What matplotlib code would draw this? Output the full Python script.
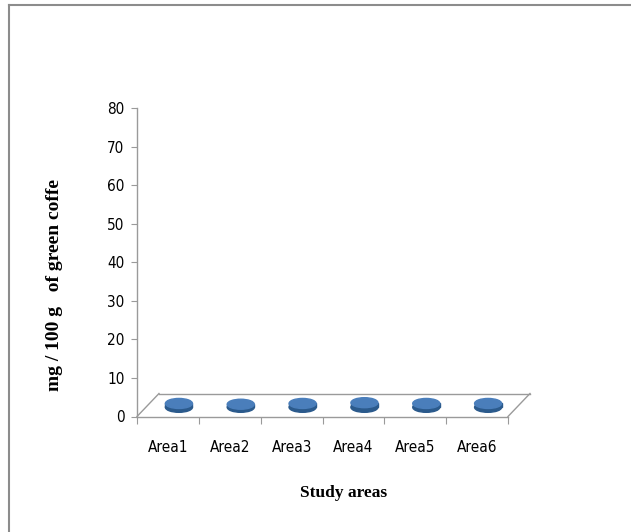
import matplotlib.pyplot as plt
from matplotlib.patches import Ellipse, Rectangle
from matplotlib.lines import Line2D

# Datos (mg / 100 g de café verde por zona)
areas = ['Area1', 'Area2', 'Area3', 'Area4', 'Area5', 'Area6']
valores = [1.0, 0.8, 1.0, 1.2, 1.0, 1.0]
yticks = [0, 10, 20, 30, 40, 50, 60, 70, 80]

W, H = 631, 532
fig = plt.figure(figsize=(W / 100, H / 100), dpi=100)

# borde del área del gráfico (solo se ven arriba e izquierda)
fig.add_artist(Line2D([9 / W, 1.0], [1 - 5 / H, 1 - 5 / H], color='#8c8c8c', lw=1.5))
fig.add_artist(Line2D([9 / W, 9 / W], [0, 1 - 5 / H], color='#8c8c8c', lw=1.5))

x0, x1, y0, y1 = 137, 508, 416.5, 108
ax = fig.add_axes([x0 / W, 1 - y0 / H, (x1 - x0) / W, (y0 - y1) / H])
ax.set_xlim(0, len(areas))
ax.set_ylim(0, 80)
for s in ['top', 'right']:
    ax.spines[s].set_visible(False)
for s in ['left', 'bottom']:
    ax.spines[s].set_color('#9a9a9a')
    ax.spines[s].set_linewidth(1.0)

narrow = dict(family='DejaVu Sans', stretch='condensed', fontsize=11)
ax.set_yticks(yticks)
ax.set_yticklabels([str(v) for v in yticks], **narrow)
ax.tick_params(axis='y', length=4, color='#9a9a9a', pad=5)

ax.set_xticks(range(len(areas) + 1))
ax.set_xticklabels([])
ax.tick_params(axis='x', which='major', length=5, color='#9a9a9a')
ax.set_xticks([i + 0.5 for i in range(len(areas))], minor=True)
ax.set_xticklabels(areas, minor=True, **narrow)
ax.tick_params(axis='x', which='minor', length=0, pad=17)

# piso en perspectiva
px_x = len(areas) / (x1 - x0)
px_y = 80 / (y0 - y1)
dx, dy = 22 * px_x, 23 * px_y
n = len(areas)
floor = dict(color='#9a9a9a', lw=1.0, clip_on=False)
ax.plot([0, dx], [0, dy], **floor)
ax.plot([dx, n + dx], [dy, dy], **floor)
ax.plot([n, n + dx], [0, dy], **floor)

# discos (cilindros muy bajos)
ew, eh = 27 * px_x, 10 * px_y
for i, v in enumerate(valores):
    cx = i + 0.5 + dx / 2
    base = dy / 2 - 0.6
    ax.add_patch(Ellipse((cx, base), ew, eh, color='#2b5a8c', clip_on=False, zorder=3))
    ax.add_patch(Rectangle((cx - ew / 2, base), ew, v, color='#2b5a8c', clip_on=False, zorder=3))
    ax.add_patch(Ellipse((cx, base + v), ew, eh, color='#4a7ebb', clip_on=False, zorder=4))

ax.set_xlabel('Study areas', family='Liberation Serif', fontweight='bold', fontsize=12.5)
ax.set_ylabel('mg / 100 g   of green coffe', family='Liberation Serif', fontweight='bold',
              fontsize=14)
ax.yaxis.set_label_coords((63 - x0) / (x1 - x0), (y0 - 285) / (y0 - y1))
ax.xaxis.set_label_coords((344 - x0) / (x1 - x0), -(485 - y0) / (y0 - y1))

fig.savefig('out.png', dpi=100)
